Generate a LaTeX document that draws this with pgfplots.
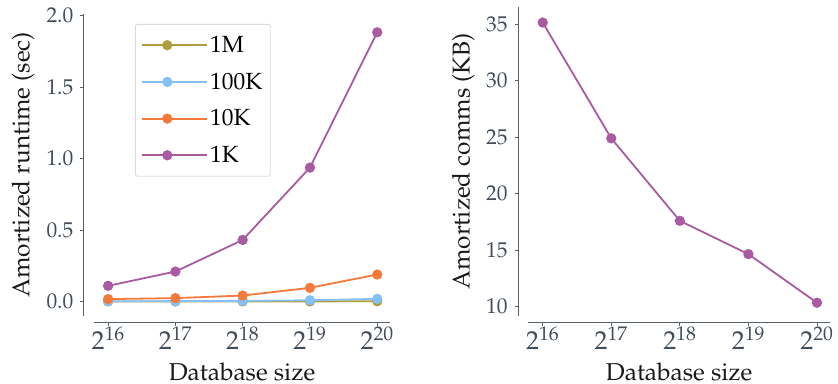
\documentclass[border=0pt]{standalone}
\usepackage[T1]{fontenc}
\usepackage{mathpazo}
\usepackage{pgfplots}
\pgfplotsset{compat=1.18}
\definecolor{axgray}{RGB}{86,96,108}
\definecolor{tkgray}{RGB}{66,76,90}
\definecolor{cM}{RGB}{176,158,62}
\definecolor{cHK}{RGB}{133,192,249}
\definecolor{cTK}{RGB}{245,121,58}
\definecolor{cK}{RGB}{169,90,161}
\pgfplotsset{
  myaxis/.style={
    scale only axis,
    axis lines*=left,
    axis line style={axgray, line width=1bp},
    tick align=outside,
    major tick length=3.5bp,
    tick style={axgray, line width=0.9bp},
    xmin=15.79, xmax=20.19,
    xtick={16,17,18,19,20},
    xticklabels={$2^{16}$,$2^{17}$,$2^{18}$,$2^{19}$,$2^{20}$},
    xticklabel style={font=\fontsize{26}{30}\selectfont, text=tkgray, anchor=base, yshift=-24bp},
    yticklabel style={font=\fontsize{21.5}{26}\selectfont, text=tkgray, anchor=east, inner xsep=0pt, xshift=-7bp},
    label style={font=\fontsize{24.5}{29}\selectfont, text=black!90},
    every axis plot/.append style={line width=1.8bp, mark=*, mark size=4.2bp},
    clip=false,
  }
}
\begin{document}
\begin{tikzpicture}
\useasboundingbox (-94bp,-68.3bp) rectangle (744bp,315.7bp);
\begin{axis}[myaxis,
  at={(0bp,0bp)},
  width=296bp, height=301.7bp,
  ymin=-0.099, ymax=2.012,
  axis x line shift=6.3bp,
  axis y line shift=10bp,
  ytick={0,0.5,1,1.5,2},
  yticklabel={\pgfmathprintnumber[fixed,precision=1,zerofill]{\tick}},
  xlabel={Database size},
  ylabel={Amortized runtime (sec)},
  xlabel style={at={(axis description cs:0.5,-0.2155)}, anchor=base},
  ylabel style={at={(axis description cs:-0.2399,0.5)}, anchor=center},
  legend style={at={(axis description cs:0.1385,0.967)}, anchor=north west,
    draw=black!14, rounded corners=2bp, fill=white, line width=0.8bp,
    font=\fontsize{23.5}{28}\selectfont, row sep=15bp,
    inner xsep=6bp, inner ysep=10bp},
  legend cell align=left,
  legend image code/.code={\draw[mark repeat=2,mark phase=2,line width=1.8bp,mark size=4.2bp,#1] plot coordinates {(0bp,0bp)(25bp,0bp)(50bp,0bp)}; \path (50bp,0bp) -- (65bp,0bp);},
]
\addplot[cM, mark options={fill=cM}] coordinates {(16,0.0005)(17,0.0006)(18,0.0008)(19,0.001)(20,0.002)};
\addlegendentry{1M}
\addplot[cHK, mark options={fill=cHK}] coordinates {(16,0.002)(17,0.003)(18,0.005)(19,0.009)(20,0.019)};
\addlegendentry{100K}
\addplot[cTK, mark options={fill=cTK}] coordinates {(16,0.017)(17,0.024)(18,0.042)(19,0.096)(20,0.189)};
\addlegendentry{10K}
\addplot[cK, mark options={fill=cK}] coordinates {(16,0.11)(17,0.21)(18,0.431)(19,0.937)(20,1.884)};
\addlegendentry{1K}
\end{axis}
\begin{axis}[myaxis,
  at={(434.3bp,0bp)},
  width=301.7bp, height=308.4bp,
  ymin=9.2, ymax=36.5,
  axis x line shift=6.6bp,
  axis y line shift=10bp,
  ytick={10,15,20,25,30,35},
  xlabel={Database size},
  ylabel={Amortized comms (KB)},
  xlabel style={at={(axis description cs:0.5,-0.2108)}, anchor=base},
  ylabel style={at={(axis description cs:-0.2154,0.5)}, anchor=center},
]
\addplot[cK, mark options={fill=cK}] coordinates {(16,35.15)(17,24.9)(18,17.6)(19,14.65)(20,10.35)};
\end{axis}
\end{tikzpicture}
\end{document}
